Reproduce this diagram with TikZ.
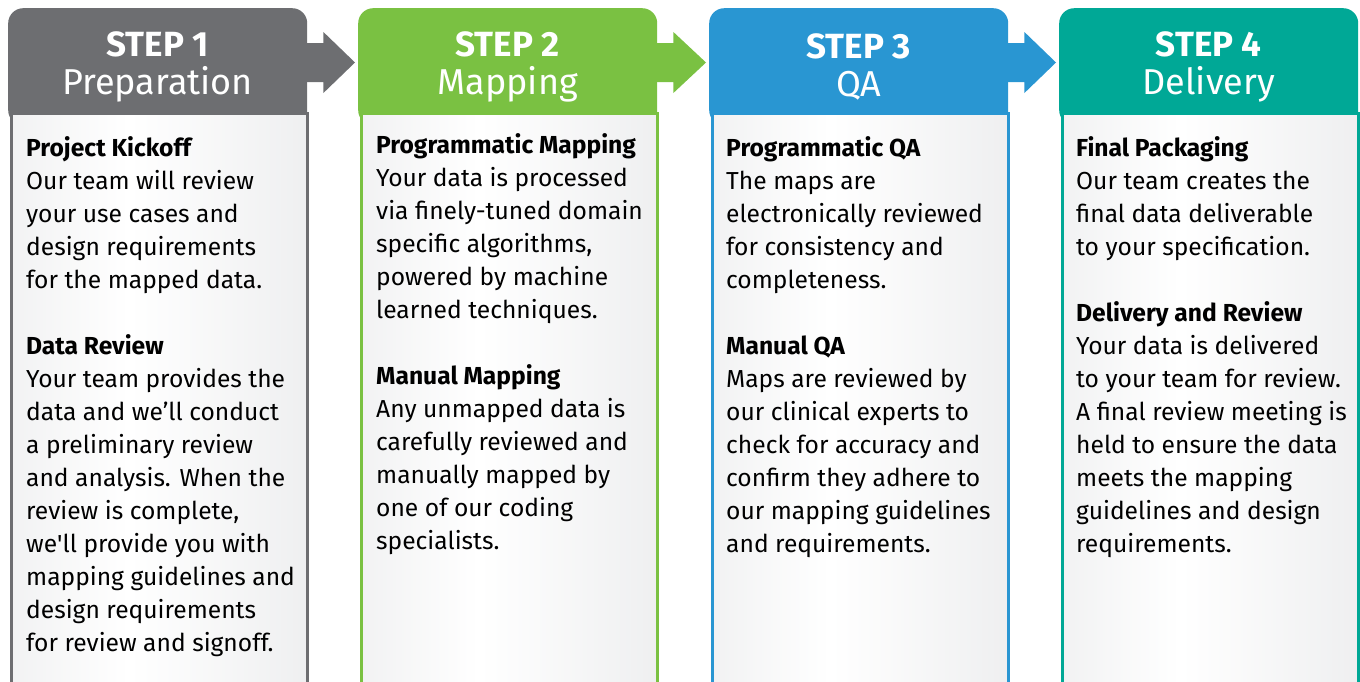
\documentclass[tikz,border=0pt]{standalone}
\usepackage{fontspec}
\setmainfont{Fira Sans}
\usetikzlibrary{calc}
\definecolor{stepgrey}{RGB}{109,110,113}
\definecolor{stepgreen}{RGB}{122,193,66}
\definecolor{stepblue}{RGB}{41,150,210}
\definecolor{stepteal}{RGB}{0,168,150}
\definecolor{panelgrey}{RGB}{225,226,228}
\pgfdeclarehorizontalshading{panelshade}{100bp}{color(0bp)=(panelgrey); color(45bp)=(white); color(100bp)=(panelgrey)}

\tikzset{
  stephead/.style={rounded corners=15pt, minimum width=299pt, minimum height=117pt,
                   inner sep=0pt, anchor=north west, align=center, text=white,
                   font=\fontsize{36}{38}\selectfont},
  stepbody/.style={shading=panelshade, line width=3pt, minimum width=296pt,
                   minimum height=600pt, inner sep=0pt, anchor=north west},
  steptext/.style={anchor=north west, align=left, inner sep=0pt,
                   font=\fontsize{24.6}{33}\selectfont}
}

\begin{document}
\begin{tikzpicture}[x=1pt, y=-1pt]
  \useasboundingbox (0,0) rectangle (1360,681);

  % headers
  \node[stephead, fill=stepgrey]  (hd1) at (8,8)    {{\bfseries\fontsize{35}{38}\selectfont STEP 1}\\Preparation};
  \node[stephead, fill=stepgreen] (hd2) at (358,8)  {{\bfseries\fontsize{35}{38}\selectfont STEP 2}\\Mapping};
  \node[stephead, fill=stepblue]  (hd3) at (709,8)  {{\bfseries\fontsize{35}{38}\selectfont STEP 3}\\QA};
  \node[stephead, fill=stepteal]  (hd4) at (1059,8) {{\bfseries\fontsize{35}{38}\selectfont STEP 4}\\Delivery};

  % panels
  \node[stepbody, draw=stepgrey]  (bd1) at (9.5,112)    {};
  \node[stepbody, draw=stepgreen] (bd2) at (359.5,112)  {};
  \node[stepbody, draw=stepblue]  (bd3) at (710.5,112)  {};
  \node[stepbody, draw=stepteal]  (bd4) at (1060.5,112) {};

  % arrows between headers
  \foreach \a/\b/\c in {1/2/stepgrey, 2/3/stepgreen, 3/4/stepblue}
    \fill[\c] ($(hd\a.north east)+(-1,35)$) -- ($(hd\a.north east)+(16,35)$)
      -- ($(hd\a.north east)+(16,24)$) -- ($(hd\b.north west)+(-3,54.5)$)
      -- ($(hd\a.north east)+(16,85)$) -- ($(hd\a.north east)+(16,74)$)
      -- ($(hd\a.north east)+(-1,74)$) -- cycle;

  % texts
  \node[steptext] (tx1) at (26,136) {\textbf{Project Kickoff}\\
    Our team will review\\
    your use cases and\\
    design requirements\\
    for the mapped data.\\[33pt]
    \textbf{Data Review}\\
    Your team provides the\\
    data and we’ll conduct\\
    a preliminary review\\
    and analysis. When the\\
    review is complete,\\
    we\textquotesingle ll provide you with\\
    mapping guidelines and\\
    design requirements\\
    for review and signoff.};
  \node[steptext] (tx2) at (376,133) {\textbf{Programmatic Mapping}\\
    Your data is processed\\
    via finely-tuned domain\\
    specific algorithms,\\
    powered by machine\\
    learned techniques.\\[33pt]
    \textbf{Manual Mapping}\\
    Any unmapped data is\\
    carefully reviewed and\\
    manually mapped by\\
    one of our coding\\
    specialists.};
  \node[steptext] (tx3) at (726,136) {\textbf{Programmatic QA}\\
    The maps are\\
    electronically reviewed\\
    for consistency and\\
    completeness.\\[33pt]
    \textbf{Manual QA}\\
    Maps are reviewed by\\
    our clinical experts to\\
    check for accuracy and\\
    confirm they adhere to\\
    our mapping guidelines\\
    and requirements.};
  \node[steptext] (tx4) at (1076,136) {\textbf{Final Packaging}\\
    Our team creates the\\
    final data deliverable\\
    to your specification.\\[33pt]
    \textbf{Delivery and Review}\\
    Your data is delivered\\
    to your team for review.\\
    A final review meeting is\\
    held to ensure the data\\
    meets the mapping\\
    guidelines and design\\
    requirements.};
\end{tikzpicture}
\end{document}
